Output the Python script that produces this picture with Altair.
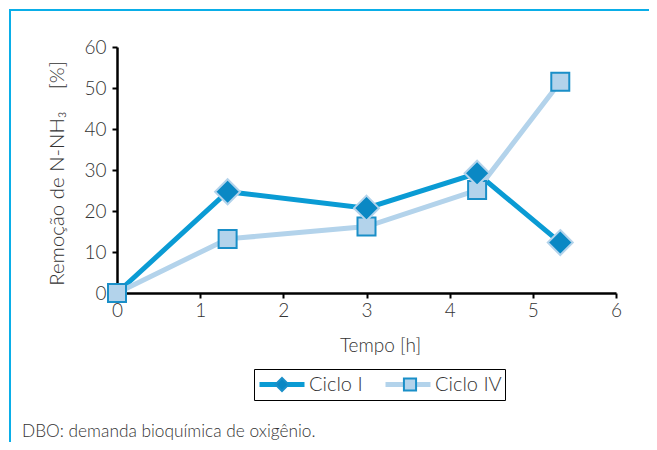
import altair as alt
import pandas as pd

# ---- data ----
tempo = [0, 1.33, 3.0, 4.33, 5.33]
ciclo_i = [0, 24.7, 20.7, 29.2, 12.3]
ciclo_iv = [0, 13.2, 16.2, 25.1, 51.5]
series = ["Ciclo I", "Ciclo IV"]
x_ticks = [0, 1, 2, 3, 4, 5, 6]
y_ticks = [0, 10, 20, 30, 40, 50, 60]
x_title = "Tempo [h]"
y_title = "Remoção de N-NH₃" + "\u00a0" * 4 + "[%]"
footnote = "DBO: demanda bioquímica de oxigênio."

rows = []
for name, vals in zip(series, [ciclo_i, ciclo_iv]):
    for t, v in zip(tempo, vals):
        rows.append({"t": t, "v": v, "serie": name, "serie_m": name})
df = pd.DataFrame(rows)

FONT = "Lato"
FW = 300
TXT = "#333333"
DARK_LINE = "#0a9bd4"
DARK_FILL = "#0a88c4"
LIGHT = "#b3d3eb"
SQ_STROKE = "#1a8fc8"
FRAME = "#0aaee8"

DIAMOND = "M0,-0.29L0.29,0L0,0.29L-0.29,0Z M-1.0667,0 M1.0667,0"
SQUARE = "M-0.27,-0.27H0.27V0.27H-0.27Z M-1.0667,0 M1.0667,0"

x_enc = alt.X(
    "t:Q",
    scale=alt.Scale(domain=[0, 6], nice=False, zero=False),
    axis=alt.Axis(
        values=x_ticks, format="d", title=x_title, labelFlush=False,
        titleX=263, titleY=52, titleBaseline="middle", titleAlign="center",
        labelPadding=3,
    ),
)
y_enc = alt.Y(
    "v:Q",
    scale=alt.Scale(domain=[0, 60], nice=False),
    axis=alt.Axis(
        values=y_ticks, title=y_title, labelFlush=False,
        titleX=-60, titleY=126, titleAngle=270, titleBaseline="middle",
        titleAlign="center", labelPadding=6, titleFontSize=20.4,
    ),
)

LEG_X = 137
LEG_Y = 322
LEG_FS = 20

leg_line = alt.Legend(
    title=None, orient="none", legendX=LEG_X, legendY=LEG_Y, direction="horizontal",
    symbolType="M-1,0H1", symbolSize=2025, symbolStrokeWidth=5, clipHeight=25,
    padding=3, labelOffset=2, columnPadding=20, strokeColor="black",
    labelExpr="datum.value === 'Ciclo IV' ? datum.label + '\u00a0\u00a0\u00a0' : datum.label",
    labelFont=FONT, labelFontSize=LEG_FS, labelFontWeight=FW, labelColor=TXT,
)
leg_mark = alt.Legend(
    title=None, orient="none", legendX=LEG_X, legendY=LEG_Y, direction="horizontal",
    symbolSize=2025, symbolStrokeWidth=2, symbolOffset=1.5, clipHeight=25,
    padding=3, labelOffset=5, columnPadding=74, symbolOpacity=1,
    labelExpr="''",
    labelFont=FONT, labelFontSize=LEG_FS, labelFontWeight=FW, labelColor=TXT,
)

base = alt.Chart(df)

lines = base.mark_line(strokeWidth=5).encode(
    x=x_enc, y=y_enc,
    stroke=alt.Stroke("serie:N", scale=alt.Scale(range=[DARK_LINE, LIGHT]), legend=leg_line),
)

fill_enc = alt.Fill("serie_m:N", scale=alt.Scale(range=[DARK_FILL, LIGHT]), legend=leg_mark)
shape_enc = alt.Shape("serie_m:N", scale=alt.Scale(range=[DIAMOND, SQUARE]), legend=leg_mark)
# works for plot rows (datum.serie) and for legend entries (datum.value)
is_ciclo_i = (alt.datum.serie == "Ciclo I") | (alt.datum.value == "Ciclo I")
stroke_enc = alt.condition(is_ciclo_i, alt.value(LIGHT), alt.value(SQ_STROKE))

squares = base.transform_filter(alt.datum.serie == "Ciclo IV").mark_point(
    filled=True, size=4444, strokeWidth=2, opacity=1
).encode(x=x_enc, y=y_enc, fill=fill_enc, shape=shape_enc, stroke=stroke_enc)

diamonds = base.transform_filter(
    (alt.datum.serie == "Ciclo I") & (alt.datum.t > 0)
).mark_point(
    filled=True, size=7430, strokeWidth=2, opacity=1
).encode(x=x_enc, y=y_enc, fill=fill_enc, shape=shape_enc, stroke=stroke_enc)

one = pd.DataFrame({"k": [0]})
frame_top = alt.Chart(one).mark_rule(color=FRAME, strokeWidth=2).encode(
    x=alt.value(-107), x2=alt.value(532), y=alt.value(-37)
)
frame_left = alt.Chart(one).mark_rule(color=FRAME, strokeWidth=2).encode(
    x=alt.value(-107), y=alt.value(-38), y2=alt.value(395)
)
note = alt.Chart(one).mark_text(
    text=footnote, align="left", baseline="middle", font=FONT, fontSize=17.3,
    fontWeight=FW, color=TXT
).encode(x=alt.value(-95), y=alt.value(385))

chart = alt.layer(frame_top, frame_left, lines, squares, diamonds, note).properties(
    width=499, height=246,
    padding={"left": 109, "top": 39, "right": 33, "bottom": 149},
    autosize=alt.AutoSizeParams(type="none"),
).configure_view(strokeWidth=0).configure_axis(
    grid=False, domainColor="black", domainWidth=2.5, tickColor="black",
    tickWidth=2, tickSize=5, labelFont=FONT, labelFontSize=19, labelFontWeight=FW,
    labelColor=TXT, titleFont=FONT, titleFontSize=19, titleFontWeight=FW,
    titleColor=TXT,
)

chart.save("out.html", embed_options={"renderer": "svg", "actions": False})
